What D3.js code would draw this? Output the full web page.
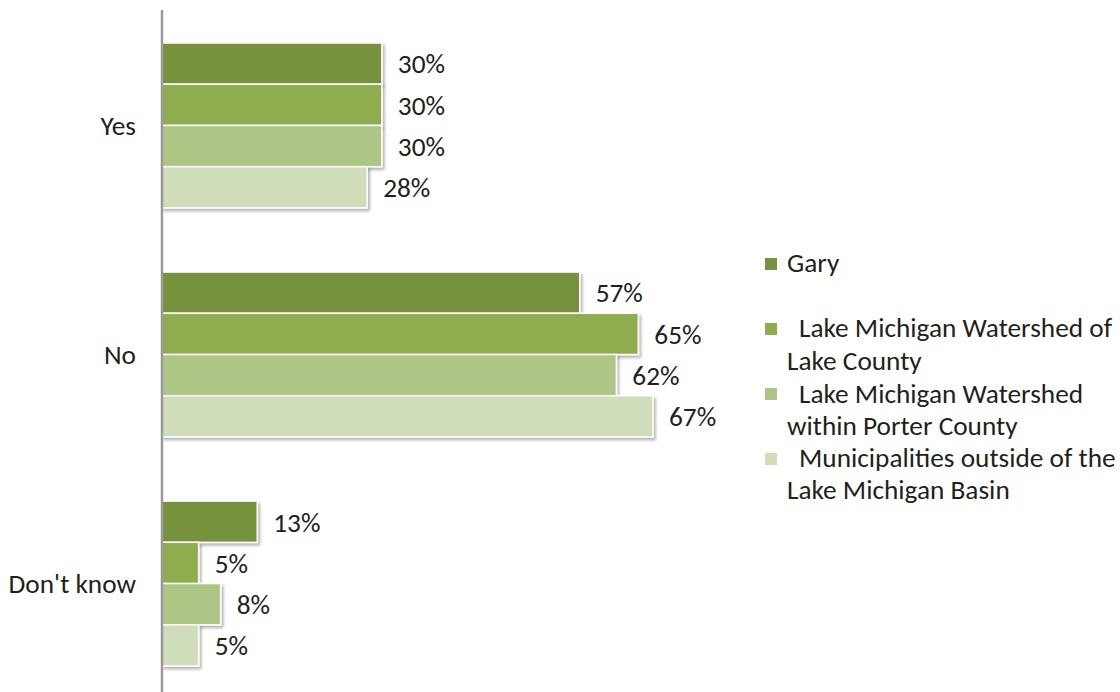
<!DOCTYPE html>
<html>
<head>
<meta charset="utf-8">
<script src="https://cdn.jsdelivr.net/npm/d3@7"></script>
<style>
  html, body { margin: 0; padding: 0; background: #ffffff; }
  svg { display: block; }
  text { font-family: Carlito, Lato, "Open Sans", sans-serif; fill: #231f20; }
</style>
</head>
<body>
<svg id="chart" width="1120" height="692"></svg>
<script>
// Survey answers by area
const categories = ["Yes", "No", "Don't know"];
const seriesNames = [
  "Gary",
  "Lake Michigan Watershed of Lake County",
  "Lake Michigan Watershed within Porter County",
  "Municipalities outside of the Lake Michigan Basin"
];
const legendLines = [
  ["Gary"],
  ["Lake Michigan Watershed of", "Lake County"],
  ["Lake Michigan Watershed", "within Porter County"],
  ["Municipalities outside of the", "Lake Michigan Basin"]
];
const gary   = [30, 57, 13];
const lake   = [30, 65, 5];
const porter = [30, 62, 8];
const muni   = [28, 67, 5];
const seriesValues = [gary, lake, porter, muni];
const colors = ["#77923c", "#8fac50", "#aec685", "#cfddba"];

const FS = 27.3;
const svg = d3.select("#chart");

const defs = svg.append("defs");
const f = defs.append("filter").attr("id", "shadow")
  .attr("x", "-5%").attr("y", "-20%").attr("width", "115%").attr("height", "160%");
f.append("feDropShadow").attr("dx", 2).attr("dy", 2.5)
  .attr("stdDeviation", 1.6).attr("flood-color", "#000").attr("flood-opacity", 0.3);

const x0 = 162;
const x = d3.scaleLinear().domain([0, 67]).range([x0, 653]);

const y = d3.scaleBand().domain(categories).range([43, 666]).paddingInner(0.28).paddingOuter(0);
const ySub = d3.scaleBand().domain(d3.range(seriesNames.length)).range([0, y.bandwidth()]).padding(0);

// Rows: one object per bar
const rows = [];
categories.forEach((c, ci) => {
  seriesValues.forEach((vals, si) => rows.push({ cat: c, s: si, v: vals[ci] }));
});

const bars = svg.append("g");
bars.selectAll("rect").data(rows).join("rect")
  .attr("x", x(0))
  .attr("y", d => y(d.cat) + ySub(d.s))
  .attr("width", d => x(d.v) - x(0))
  .attr("height", ySub.bandwidth())
  .attr("fill", d => colors[d.s])
  .attr("stroke", "#ffffff")
  .attr("stroke-width", 1.5)
  .attr("filter", "url(#shadow)");

svg.append("g").selectAll("text").data(rows).join("text")
  .attr("x", d => x(d.v) + 16)
  .attr("y", d => y(d.cat) + ySub(d.s) + ySub.bandwidth() / 2)
  .attr("dy", "0.36em")
  .attr("font-size", FS)
  .text(d => d.v + "%");

// Category axis
const axis = svg.append("g").attr("transform", `translate(${x0},0)`)
  .call(d3.axisLeft(y).tickSize(0).tickPadding(26));
axis.select(".domain").remove();
axis.selectAll("text").attr("font-size", FS).attr("dy", "0.36em")
  .style("font-family", "Carlito, Lato, 'Open Sans', sans-serif").attr("fill", "#231f20");
svg.append("line").attr("x1", x0).attr("x2", x0).attr("y1", 10).attr("y2", 692)
  .attr("stroke", "#9a9a9a").attr("stroke-width", 2.5);

// Legend
const markerY = [264, 329, 394, 459];
const baselines = [[272], [337, 370], [403, 435], [467, 499]];
const legend = svg.append("g");
legendLines.forEach((lines, i) => {
  legend.append("rect").attr("x", 765).attr("y", markerY[i] - 6).attr("width", 12).attr("height", 12)
    .attr("fill", colors[i]);
  lines.forEach((ln, j) => {
    legend.append("text")
      .attr("x", (lines.length > 1 && j === 0) ? 799 : 787)
      .attr("y", baselines[i][j])
      .attr("font-size", FS)
      .text(ln);
  });
});
</script>
</body>
</html>
